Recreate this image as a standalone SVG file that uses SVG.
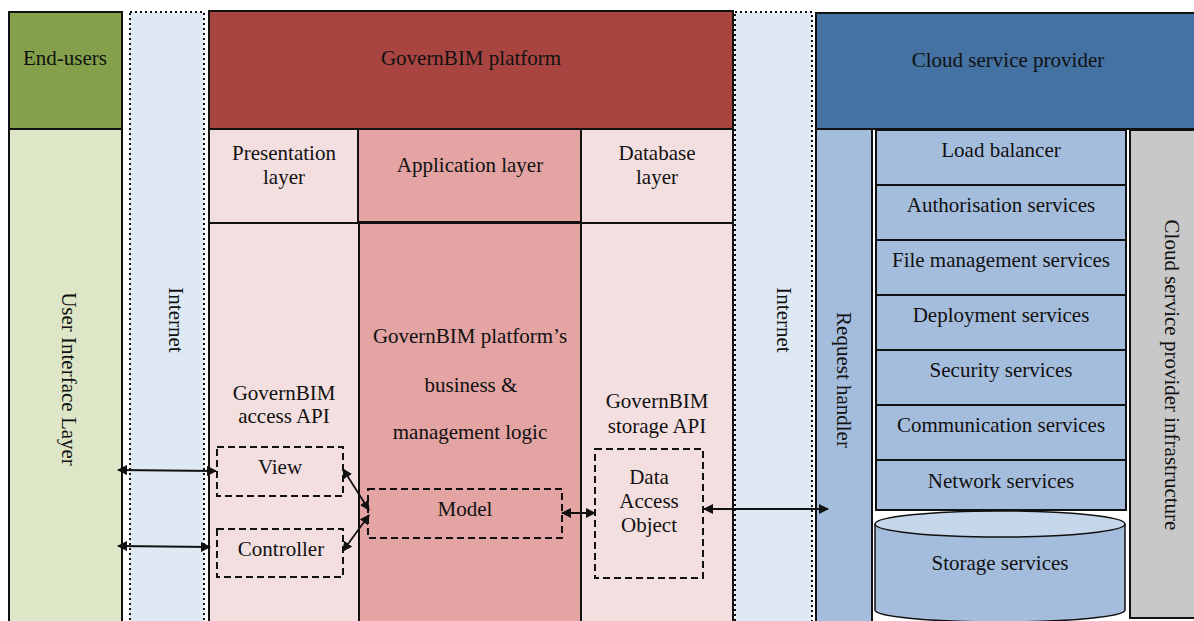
<svg xmlns="http://www.w3.org/2000/svg" width="1194" height="621" viewBox="0 0 1194 621" font-family="Liberation Serif, Times New Roman, serif">
<style>
text{font-family:'Liberation Serif','Times New Roman',serif;font-size:21px;fill:#111;text-anchor:middle}
.b{stroke:#111;stroke-width:2}
.dot{fill:#dfe9f4;stroke:#111;stroke-width:2;stroke-dasharray:2 3}
.dash{fill:none;stroke:#111;stroke-width:2;stroke-dasharray:7 4}
.svc{fill:#a5bddd;stroke:#111;stroke-width:2}
.c{fill:none;stroke:#111;stroke-width:1.8}
</style>
<defs>
<marker id="ae" viewBox="0 0 10 10" refX="9" refY="5" markerWidth="10" markerHeight="10" orient="auto" markerUnits="userSpaceOnUse">
<path d="M0,0 L10,5 L0,10 z" fill="#111"/>
</marker>
<marker id="as" viewBox="0 0 10 10" refX="1" refY="5" markerWidth="10" markerHeight="10" orient="auto" markerUnits="userSpaceOnUse">
<path d="M10,0 L0,5 L10,10 z" fill="#111"/>
</marker>
</defs>
<rect width="1194" height="621" fill="#fff"/>

<g id="end-users">
<rect x="9" y="12" width="113" height="117" fill="#84a04a" class="b"/>
<rect x="9" y="129" width="113" height="500" fill="#dde7c7" class="b"/>
<text x="65" y="65">End-users</text>
<text transform="translate(62,379) rotate(90)">User Interface Layer</text>
</g>

<g id="internet-1">
<rect x="130" y="12" width="74" height="620" class="dot"/>
<text transform="translate(169,320) rotate(90)">Internet</text>
</g>

<g id="govern-platform">
<rect x="209" y="11" width="524" height="118" fill="#a84541" class="b"/>
<text x="471" y="65">GovernBIM platform</text>
</g>

<g id="presentation-layer">
<rect x="209" y="129" width="149" height="94" fill="#f4dfe0" class="b"/>
<text x="284" y="160">Presentation</text>
<text x="284" y="184">layer</text>
<rect x="209" y="223" width="150" height="410" fill="#f4dfe0" class="b"/>
<text x="284" y="400">GovernBIM</text>
<text x="284" y="423">access API</text>
</g>

<g id="application-layer">
<rect x="358" y="129" width="223" height="93" fill="#e3a4a3" class="b"/>
<text x="470" y="172">Application layer</text>
<rect x="359" y="223" width="222" height="410" fill="#e3a4a3" class="b"/>
<text x="470" y="343">GovernBIM platform’s</text>
<text x="471" y="392">business &amp;</text>
<text x="470" y="439">management logic</text>
</g>

<g id="database-layer">
<rect x="581" y="129" width="152" height="94" fill="#f4dfe0" class="b"/>
<text x="657" y="160">Database</text>
<text x="657" y="184">layer</text>
<rect x="581" y="223" width="152" height="410" fill="#f4dfe0" class="b"/>
<text x="657" y="408">GovernBIM</text>
<text x="657" y="433">storage API</text>
</g>

<g id="view"><rect x="217" y="447" width="126" height="49" class="dash"/><text x="280" y="474">View</text></g>
<g id="controller"><rect x="217" y="529" width="126" height="48" class="dash"/><text x="281" y="556">Controller</text></g>
<g id="model"><rect x="368" y="489" width="194" height="49" class="dash"/><text x="465" y="516">Model</text></g>
<g id="dao"><rect x="595" y="449" width="108" height="129" class="dash"/>
<text x="649" y="484">Data</text><text x="649" y="508">Access</text><text x="649" y="532">Object</text></g>

<g id="internet-2">
<rect x="735" y="12" width="77" height="620" class="dot"/>
<text transform="translate(777,320) rotate(90)">Internet</text>
</g>

<g id="cloud-provider">
<rect x="816" y="13" width="380" height="116" fill="#4472a3" class="b"/>
<text x="1008" y="67">Cloud service provider</text>
</g>

<g id="request-handler">
<rect x="816" y="129" width="56" height="500" fill="#a5bddd" class="b"/>
<text transform="translate(837,380) rotate(90)">Request handler</text>
</g>

<g id="services">
<rect x="876" y="130" width="250" height="55" class="svc"/><text x="1001" y="157">Load balancer</text>
<rect x="876" y="185" width="250" height="55" class="svc"/><text x="1001" y="212">Authorisation services</text>
<rect x="876" y="240" width="250" height="55" class="svc"/><text x="1001" y="267">File management services</text>
<rect x="876" y="295" width="250" height="55" class="svc"/><text x="1001" y="322">Deployment services</text>
<rect x="876" y="350" width="250" height="55" class="svc"/><text x="1001" y="377">Security services</text>
<rect x="876" y="405" width="250" height="55" class="svc"/><text x="1001" y="432">Communication services</text>
<rect x="876" y="460" width="250" height="50" class="svc"/><text x="1001" y="488">Network services</text>
</g>

<g id="storage">
<path d="M875,524 L875,610 A125,12 0 0 0 1125,610 L1125,524" fill="#a5bddd" stroke="#111" stroke-width="1.5"/>
<ellipse cx="1000" cy="524" rx="125" ry="13" fill="#c6d7ec" stroke="#111" stroke-width="1.5"/>
<text x="1000" y="570">Storage services</text>
</g>

<g id="infrastructure">
<rect x="1130" y="130" width="66" height="488" fill="#c8c8c8" class="b"/>
<text transform="translate(1165,375) rotate(90)">Cloud service provider infrastructure</text>
</g>

<g id="connectors">
<line x1="118" y1="470" x2="216" y2="471" class="c" marker-start="url(#as)" marker-end="url(#ae)"/>
<line x1="118" y1="546" x2="210" y2="547" class="c" marker-start="url(#as)" marker-end="url(#ae)"/>
<line x1="343" y1="469" x2="369" y2="510" class="c" marker-start="url(#as)" marker-end="url(#ae)"/>
<line x1="343" y1="551" x2="369" y2="515" class="c" marker-start="url(#as)" marker-end="url(#ae)"/>
<line x1="562" y1="513" x2="595" y2="513" class="c" marker-start="url(#as)" marker-end="url(#ae)"/>
<line x1="704" y1="509" x2="828" y2="509" class="c" marker-start="url(#as)" marker-end="url(#ae)"/>
</g>
</svg>
